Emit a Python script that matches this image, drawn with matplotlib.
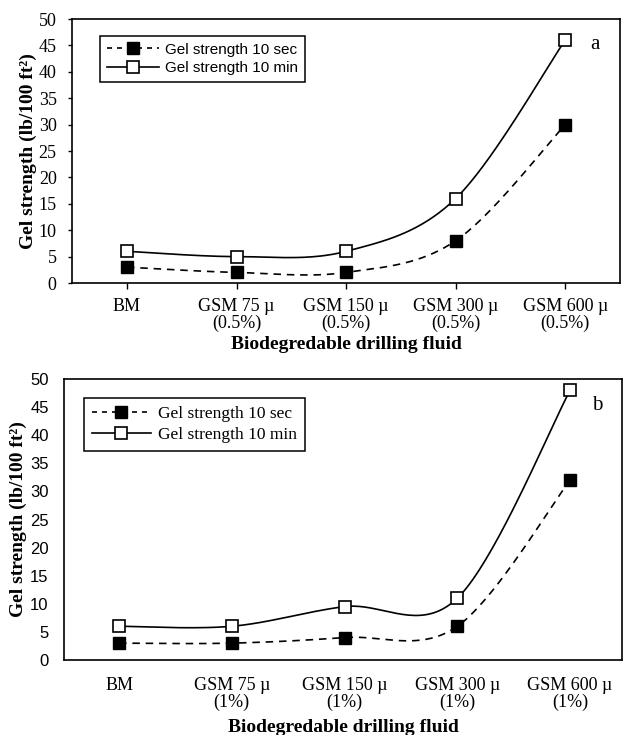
import numpy as np
import matplotlib
matplotlib.use('Agg')
import matplotlib.pyplot as plt

cats_a = ['BM', 'GSM 75 µ\n(0.5%)', 'GSM 150 µ\n(0.5%)', 'GSM 300 µ\n(0.5%)', 'GSM 600 µ\n(0.5%)']
cats_b = ['BM', 'GSM 75 µ\n(1%)', 'GSM 150 µ\n(1%)', 'GSM 300 µ\n(1%)', 'GSM 600 µ\n(1%)']

gel_10s_a = [3, 2, 2, 8, 30]
gel_10m_a = [6, 5, 6, 16, 46]
gel_10s_b = [3, 3, 4, 6, 32]
gel_10m_b = [6, 6, 9.5, 11, 48]

yticks = [0, 5, 10, 15, 20, 25, 30, 35, 40, 45, 50]

SERIF = 'Liberation Serif'
SANS = 'Liberation Sans'


def smooth(x, y, n=40):
    # Excel-like smoothed line (Catmull-Rom as cubic Bezier)
    p = np.column_stack([x, y]).astype(float)
    p = np.vstack([p[0], p, p[-1]])
    t = np.linspace(0, 1, n)[:, None]
    out = []
    for i in range(1, len(p) - 2):
        p0, p1, p2, p3 = p[i - 1], p[i], p[i + 1], p[i + 2]
        c1 = p1 + (p2 - p0) / 6
        c2 = p2 - (p3 - p1) / 6
        seg = ((1 - t) ** 3) * p1 + 3 * ((1 - t) ** 2) * t * c1 + 3 * (1 - t) * t ** 2 * c2 + t ** 3 * p2
        out.append(seg)
    s = np.vstack(out)
    return s[:, 0], s[:, 1]


def panel(ax, cats, sec, mins, tickfont, ticksize, legfont, legsize, leg_anchor, letter):
    x = np.arange(len(cats))
    xs, ys = smooth(x, sec)
    ax.plot(xs, ys, color='black', lw=1.2, ls=(0, (4.5, 3.5)))
    xm, ym = smooth(x, mins)
    ax.plot(xm, ym, color='black', lw=1.2)
    ax.plot(x, sec, ls='none', marker='s', ms=8.5, color='black', mec='black')
    ax.plot(x, mins, ls='none', marker='s', ms=8.5, mfc='white', mec='black', mew=1.2)

    # legend proxies
    h1, = ax.plot([], [], color='black', lw=1.2, ls=(0, (3, 3)), marker='s', ms=8.5, mec='black')
    h2, = ax.plot([], [], color='black', lw=1.2, marker='s', ms=8.5, mfc='white', mec='black', mew=1.2)
    leg = ax.legend([h1, h2], ['Gel strength 10 sec', 'Gel strength 10 min'],
                    loc='upper left', bbox_to_anchor=leg_anchor, borderaxespad=0,
                    prop={'family': legfont, 'size': legsize}, fancybox=False,
                    edgecolor='black', framealpha=1, handlelength=3.4,
                    borderpad=0.45, labelspacing=0.28, handletextpad=0.4)
    leg.get_frame().set_linewidth(1.1)

    ax.set_ylim(0, 50)
    ax.set_yticks(yticks)
    ax.set_xticks(x)
    ax.set_xticklabels(cats, family=SERIF, fontsize=13, linespacing=1.0)
    for lab in ax.get_yticklabels():
        lab.set_family(tickfont)
        lab.set_fontsize(ticksize)
    ax.set_ylabel('Gel strength (lb/100 ft²)', family=SERIF, fontsize=14, fontweight='bold')
    ax.set_xlabel('Biodegredable drilling fluid', family=SERIF, fontsize=14, fontweight='bold')
    for s in ax.spines.values():
        s.set_linewidth(1.2)
        s.set_color('black')
    ax.text(0.955, 0.905, letter, transform=ax.transAxes, family=SERIF, fontsize=15,
            ha='center', va='center')


fig = plt.figure(figsize=(6.23, 7.35), dpi=100)
ax1 = fig.add_axes([72 / 623, 1 - 283 / 735, 548 / 623, 264 / 735])
ax2 = fig.add_axes([64 / 623, 1 - 660 / 735, 558 / 623, 281 / 735])

panel(ax1, cats_a, gel_10s_a, gel_10m_a, SERIF, 13, SANS, 11, (0.051, 0.936), 'a')
ax1.set_xlim(-0.502, 4.50)
ax1.tick_params(axis='y', length=3, width=1, pad=8)
ax1.tick_params(axis='x', length=4, width=1, pad=6.5)
ax1.yaxis.set_label_coords(-0.064, 0.5)
ax1.xaxis.set_label_coords(0.5, -0.2)

panel(ax2, cats_b, gel_10s_b, gel_10m_b, SANS, 12, SERIF, 12.5, (0.036, 0.932), 'b')
ax2.set_xlim(-0.488, 4.46)
ax2.tick_params(axis='y', length=0, pad=11)
ax2.tick_params(axis='x', length=0, pad=12)
ax2.yaxis.set_label_coords(-0.066, 0.5)
ax2.xaxis.set_label_coords(0.5, -0.21)

fig.savefig('out.png', dpi=100)
